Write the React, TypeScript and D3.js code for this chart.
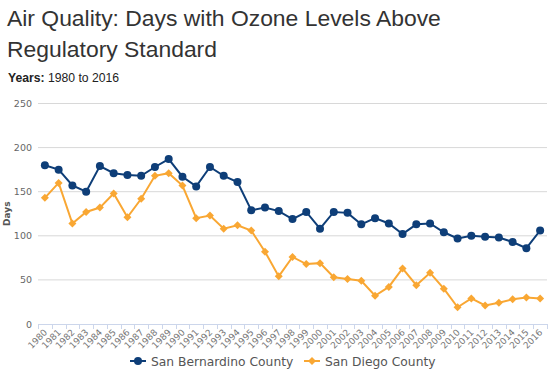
import React from "react";
import * as d3 from "d3";

const years: string[] = [
  "1980","1981","1982","1983","1984","1985","1986","1987","1988","1989",
  "1990","1991","1992","1993","1994","1995","1996","1997","1998","1999",
  "2000","2001","2002","2003","2004","2005","2006","2007","2008","2009",
  "2010","2011","2012","2013","2014","2015","2016",
];
const sanBernardino: number[] = [
  180, 175, 157, 150, 179, 171, 169, 168, 178, 187,
  167, 156, 178, 168, 161, 129, 132, 128, 119, 127,
  108, 127, 126, 113, 120, 114, 102, 113, 114, 104,
  97, 100, 99, 98, 93, 86, 106,
];
const sanDiego: number[] = [
  143, 160, 114, 127, 132, 148, 121, 142, 168, 171,
  157, 120, 123, 108, 112, 106, 82, 54, 76, 68,
  69, 53, 51, 49, 32, 42, 63, 44, 58, 40,
  19, 29, 21, 24, 28, 30, 29,
];
const yTicks: number[] = [0, 50, 100, 150, 200, 250];
const seriesNames: string[] = ["San Bernardino County", "San Diego County"];

const W = 550;
const H = 380;
const plotLeft = 38;
const plotRight = 547;
const plotTop = 103.5;
const plotBottom = 324;
const NAVY = "#0e3e78";
const ORANGE = "#f9a733";
const AXIS_FONT = "'DejaVu Sans', Verdana, sans-serif";

function Diamond({ x, y, r, color }: { x: number; y: number; r: number; color: string }) {
  return (
    <path
      d={`M${x},${y - r}L${x + r},${y}L${x},${y + r}L${x - r},${y}Z`}
      fill={color}
    />
  );
}

export default function App() {
  const x = d3.scaleBand<string>().domain(years).range([plotLeft, plotRight]).padding(0);
  const y = d3.scaleLinear().domain([0, 250]).range([plotBottom, plotTop]);
  const cx = (yr: string) => (x(yr) as number) + x.bandwidth() / 2;

  const line = d3
    .line<number>()
    .x((_, i) => cx(years[i]))
    .y((d) => y(d));

  const boundaries = years.map((yr) => x(yr) as number).concat([plotRight]);

  const legendY = 361;

  return (
    <div style={{ position: "fixed", left: 0, top: 0 }}>
      <svg width={W} height={H} style={{ display: "block", background: "#fff" }}>
        {/* Title */}
        <text
          x={7}
          y={25.5}
          fontFamily="'Liberation Sans', Arial, sans-serif"
          fontSize={22.9}
          fill="#333"
        >
          Air Quality: Days with Ozone Levels Above
        </text>
        <text
          x={7}
          y={57}
          fontFamily="'Liberation Sans', Arial, sans-serif"
          fontSize={22.9}
          fill="#333"
        >
          Regulatory Standard
        </text>
        <text
          x={8}
          y={81.5}
          fontFamily="'Liberation Sans', Arial, sans-serif"
          fontSize={12.2}
          fill="#222"
        >
          <tspan fontWeight="bold">Years:</tspan> 1980 to 2016
        </text>

        {/* Gridlines */}
        {yTicks.map((t) =>
          t === 0 ? null : (
            <line
              key={`g${t}`}
              x1={plotLeft}
              x2={plotRight}
              y1={y(t)}
              y2={y(t)}
              stroke="#d8d8d8"
              strokeWidth={1}
            />
          )
        )}
        {/* Y tick labels */}
        {yTicks.map((t) => (
          <text
            key={`yl${t}`}
            x={32}
            y={y(t) + 3.5}
            textAnchor="end"
            fontFamily={AXIS_FONT}
            fontSize={9.5}
            fill="#666"
          >
            {t}
          </text>
        ))}
        <text
          transform={`translate(10,${(plotTop + plotBottom) / 2}) rotate(-90)`}
          textAnchor="middle"
          fontFamily={AXIS_FONT}
          fontSize={9}
          fontWeight="bold"
          fill="#555"
        >
          Days
        </text>

        {/* X axis */}
        <line
          x1={plotLeft}
          x2={plotRight}
          y1={plotBottom + 0.5}
          y2={plotBottom + 0.5}
          stroke="#ccd6eb"
          strokeWidth={1}
        />
        {boundaries.map((b, i) => (
          <line
            key={`t${i}`}
            x1={Math.round(b) + 0.5}
            x2={Math.round(b) + 0.5}
            y1={plotBottom}
            y2={plotBottom + 5}
            stroke="#ccd6eb"
            strokeWidth={1}
          />
        ))}
        {years.map((yr) => (
          <text
            key={`xl${yr}`}
            transform={`translate(${cx(yr) + 3},${plotBottom + 9}) rotate(-45)`}
            textAnchor="end"
            fontFamily={AXIS_FONT}
            fontSize={9}
            fill="#777"
          >
            {yr}
          </text>
        ))}

        {/* Series lines */}
        <path d={line(sanDiego) || ""} fill="none" stroke={ORANGE} strokeWidth={2} />
        <path d={line(sanBernardino) || ""} fill="none" stroke={NAVY} strokeWidth={2} />
        {sanDiego.map((v, i) => (
          <Diamond key={`sd${i}`} x={cx(years[i])} y={y(v)} r={4} color={ORANGE} />
        ))}
        {sanBernardino.map((v, i) => (
          <circle key={`sb${i}`} cx={cx(years[i])} cy={y(v)} r={4} fill={NAVY} />
        ))}

        {/* Legend */}
        <g>
          <line x1={130} x2={146} y1={legendY} y2={legendY} stroke={NAVY} strokeWidth={2} />
          <circle cx={138} cy={legendY} r={4} fill={NAVY} />
          <text
            x={151}
            y={legendY + 4.5}
            fontFamily={AXIS_FONT}
            fontSize={12.3}
            fill="#555"
          >
            {seriesNames[0]}
          </text>
          <line x1={304} x2={320} y1={legendY} y2={legendY} stroke={ORANGE} strokeWidth={2} />
          <Diamond x={312} y={legendY} r={4} color={ORANGE} />
          <text
            x={325}
            y={legendY + 4.5}
            fontFamily={AXIS_FONT}
            fontSize={12.3}
            fill="#555"
          >
            {seriesNames[1]}
          </text>
        </g>
      </svg>
    </div>
  );
}
